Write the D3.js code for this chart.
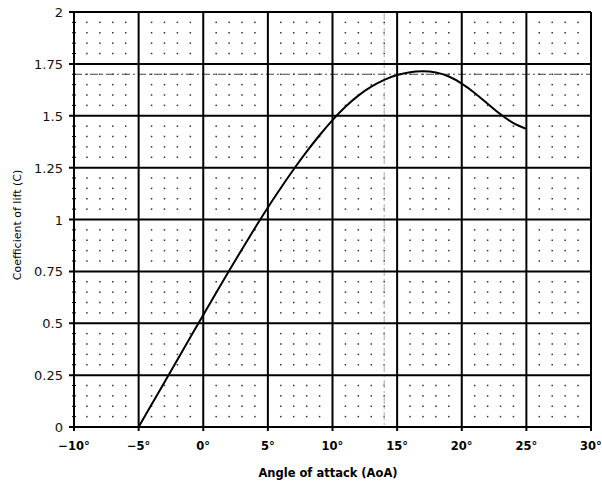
<!DOCTYPE html>
<html><head><meta charset="utf-8">
<script src="https://cdn.jsdelivr.net/npm/d3@7"></script>
<style>body{margin:0;background:#fff}svg{display:block}</style>
</head><body>
<svg id="c" width="602" height="485"></svg>
<script>
const aoa = [-5,-4,-3,-2,-1,0,1,2,3,4,5,6,7,8,9,10,11,12,13,14,15,16,17,18,19,20,21,22,23,24,25];
const cl  = [0,0.108,0.216,0.324,0.432,0.54,0.647,0.753,0.857,0.959,1.058,1.152,1.242,1.327,1.406,1.479,1.543,1.597,1.640,1.673,1.696,1.710,1.714,1.708,1.689,1.655,1.610,1.558,1.507,1.465,1.437];
const xTicks = [-10,-5,0,5,10,15,20,25,30];
const xTickLabels = ["\u221210\u00b0","\u22125\u00b0","0\u00b0","5\u00b0","10\u00b0","15\u00b0","20\u00b0","25\u00b0","30\u00b0"];
const yTicks = [0,0.25,0.5,0.75,1,1.25,1.5,1.75,2];
const yTickLabels = ["0","0.25","0.5","0.75","1","1.25","1.5","1.75","2"];
const refCl = 1.7;     // dash-dot horizontal reference
const refAoa = 14;     // dash-dot vertical reference

const svg = d3.select("#c");
const x = d3.scaleLinear().domain([-10,30]).range([74,591]);
const y = d3.scaleLinear().domain([0,2]).range([427,12]);
const g = svg.append("g");

// minor dots
const minorX = d3.range(-10,30.01,1);
const minorY = d3.range(0,2.001,0.05);
const dots = [];
minorX.forEach(a=>minorY.forEach(b=>{
  const onMajX = Math.abs(a%5)<1e-6, onMajY = Math.abs((b*4)-Math.round(b*4))<1e-6;
  if(!onMajX && !onMajY) dots.push([a,b]);
}));
g.selectAll("rect.dot").data(dots).join("rect").attr("class","dot")
 .attr("x",d=>x(d[0])-0.75).attr("y",d=>y(d[1])-0.75).attr("width",1.5).attr("height",1.5).attr("fill","#333");

// reference dash-dot lines
g.append("line").attr("x1",x(-10)).attr("x2",x(30)).attr("y1",y(refCl)).attr("y2",y(refCl))
 .attr("stroke","#444").attr("stroke-width",1).attr("stroke-dasharray","8,3,2,3");
g.append("line").attr("x1",x(refAoa)).attr("x2",x(refAoa)).attr("y1",y(2)).attr("y2",y(0))
 .attr("stroke","#aaa").attr("stroke-width",1).attr("stroke-dasharray","8,3,2,3");

// major grid
g.selectAll("line.vx").data(xTicks).join("line").attr("class","vx")
 .attr("x1",d=>x(d)).attr("x2",d=>x(d)).attr("y1",y(2)).attr("y2",y(0)+4)
 .attr("stroke","#000").attr("stroke-width",2);
g.selectAll("line.hy").data(yTicks).join("line").attr("class","hy")
 .attr("x1",x(-10)-5).attr("x2",x(30)).attr("y1",d=>y(d)).attr("y2",d=>y(d))
 .attr("stroke","#000").attr("stroke-width",2);
// minor ticks on left axis
g.selectAll("line.mt").data(minorY).join("line").attr("class","mt")
 .attr("x1",x(-10)-2).attr("x2",x(-10)+2).attr("y1",d=>y(d)).attr("y2",d=>y(d))
 .attr("stroke","#000").attr("stroke-width",1);

// curve
const line = d3.line().x((d,i)=>x(aoa[i])).y(d=>y(d)).curve(d3.curveNatural);
g.append("path").attr("d",line(cl)).attr("fill","none").attr("stroke","#000").attr("stroke-width",2);

// labels
const font = "DejaVu Sans, sans-serif";
g.selectAll("text.yl").data(yTicks).join("text").attr("class","yl")
 .attr("x",63).attr("y",d=>y(d)+5).attr("text-anchor","end")
 .attr("font-family",font).attr("font-size",13).attr("fill","#111").text((d,i)=>yTickLabels[i]);
g.selectAll("text.xl").data(xTicks).join("text").attr("class","xl")
 .attr("x",d=>x(d)).attr("y",450).attr("text-anchor","middle")
 .attr("font-family",font).attr("font-size",11.5).attr("font-weight","bold").attr("fill","#000").text((d,i)=>xTickLabels[i]);
g.append("text").attr("x",328).attr("y",477).attr("text-anchor","middle")
 .attr("font-family",font).attr("font-size",11.5).attr("font-weight","bold").text("Angle of attack (AoA)");
g.append("text").attr("transform","translate(21,225) rotate(-90)").attr("text-anchor","middle")
 .attr("font-family",font).attr("font-size",11).text("Coefficient of lift (C)");
</script>
</body></html>
